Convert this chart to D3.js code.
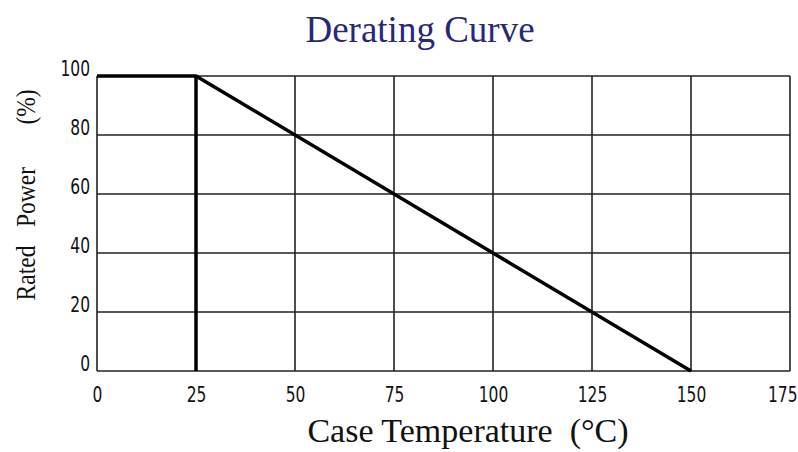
<!DOCTYPE html>
<html><head><meta charset="utf-8">
<script src="https://cdn.jsdelivr.net/npm/d3@7"></script>
<style>body{margin:0;background:#fff}svg{display:block}</style>
</head><body><svg id="c" width="798" height="452"></svg>
<script>
const xTicks = [0, 25, 50, 75, 100, 125, 150, 175];
const yTicks = [0, 20, 40, 60, 80, 100];
const tempC = [0, 25, 150];
const powerPct = [100, 100, 0];
const kneeTemp = [25, 25];
const kneePower = [100, 0];
const yTitleWords = ["Rated", "Power", "(%)"];

const svg = d3.select("#c");
const m = {l: 97, r: 790, t: 76, b: 371};
const x = d3.scaleLinear().domain([0, 175]).range([m.l, m.r]);
const y = d3.scaleLinear().domain([0, 100]).range([m.b, m.t]);

// grid
const grid = svg.append("g").attr("stroke", "#222").attr("stroke-width", 1.6);
grid.selectAll(".vx").data(xTicks).join("line")
  .attr("x1", d => x(d)).attr("x2", d => x(d)).attr("y1", y(0)).attr("y2", y(100));
grid.selectAll(".hy").data(yTicks).join("line")
  .attr("x1", x(0)).attr("x2", x(175)).attr("y1", d => y(d)).attr("y2", d => y(d));

// axes (labels only)
const fnt = "'DejaVu Sans Condensed','DejaVu Sans',sans-serif";
const sx = 0.82;
const xa = svg.append("g").attr("transform", `translate(0,${y(0)})`)
  .call(d3.axisBottom(x).tickValues(xTicks).tickSize(0).tickPadding(0).tickFormat(d3.format("d")));
xa.select(".domain").remove();
xa.selectAll("text").attr("font-family", fnt).attr("font-size", 21).attr("fill", "#111")
  .attr("x", d => d === 175 ? 7 / sx : 0)
  .attr("text-anchor", d => d === 175 ? "end" : "middle")
  .attr("y", 31).attr("dy", null).attr("transform", `scale(${sx},1)`);
const ya = svg.append("g").attr("transform", `translate(${x(0)},0)`)
  .call(d3.axisLeft(y).tickValues(yTicks).tickSize(0).tickPadding(0).tickFormat(d3.format("d")));
ya.select(".domain").remove();
ya.selectAll("text").attr("font-family", fnt).attr("font-size", 21).attr("fill", "#111")
  .attr("x", -7 / sx).attr("dy", null).attr("y", -1).attr("transform", `scale(${sx},1)`);

// curve
svg.append("path").datum(tempC)
  .attr("d", d3.line().x(d => x(d)).y((d, i) => y(powerPct[i])))
  .attr("fill", "none").attr("stroke", "#000").attr("stroke-width", 3.5).attr("stroke-linejoin", "miter");
svg.append("path").datum(kneeTemp)
  .attr("d", d3.line().x(d => x(d)).y((d, i) => y(kneePower[i])))
  .attr("fill", "none").attr("stroke", "#000").attr("stroke-width", 3.5);

// titles
const serif = "'Liberation Serif','Times New Roman',serif";
svg.append("text").attr("x", 420).attr("y", 42).attr("text-anchor", "middle")
  .attr("font-family", serif).attr("font-size", 37).attr("fill", "#28287a").text("Derating Curve");
svg.append("text").attr("x", 468).attr("y", 442).attr("text-anchor", "middle")
  .attr("font-family", serif).attr("font-size", 34).attr("fill", "#111")
  .attr("xml:space", "preserve").text("Case Temperature  (°C)");
const yCenters = [273, 197, 107];
svg.append("g").selectAll("text").data(yTitleWords).join("text")
  .attr("transform", (d, i) => `translate(35,${yCenters[i]}) rotate(-90) scale(0.87,1)`)
  .attr("text-anchor", "middle")
  .attr("font-family", serif).attr("font-size", 27).attr("fill", "#111")
  .text(d => d);
</script></body></html>
